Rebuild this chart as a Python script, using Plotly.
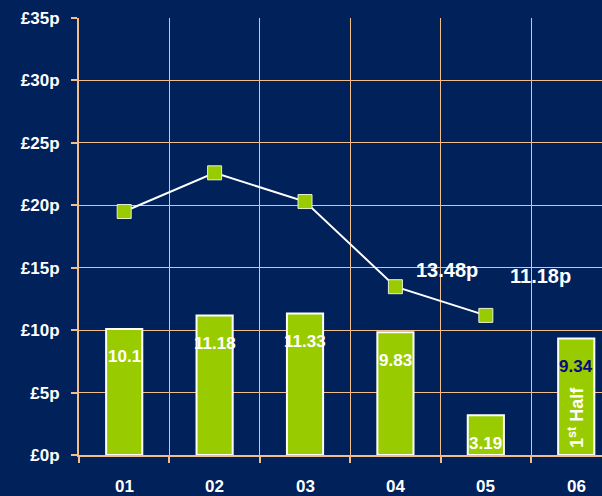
import plotly.graph_objects as go

categories = ["01", "02", "03", "04", "05", "06"]
bar_values = [10.1, 11.18, 11.33, 9.83, 3.19, 9.34]
bar_labels = ["10.1", "11.18", "11.33", "9.83", "3.19", "9.34"]
bar_label_colors = ["white", "white", "white", "white", "white", "#0a0a80"]
line_categories = ["01", "02", "03", "04", "05"]
line_values = [19.5, 22.6, 20.3, 13.48, 11.18]
y_ticks = [0, 5, 10, 15, 20, 25, 30, 35]
y_tick_labels = ["£0p", "£5p", "£10p", "£15p", "£20p", "£25p", "£30p", "£35p"]
callout_categories = ["04", "05"]
callout_values = [13.48, 11.18]
callout_texts = ["13.48p", "11.18p"]

BG = "#00215a"
GRID = "#f2bf8c"
GREEN = "#99cc00"
FONT = "Liberation Sans, Arial, sans-serif"

idx = {c: i for i, c in enumerate(categories)}

fig = go.Figure()
fig.add_trace(go.Bar(
    x=[idx[c] for c in categories], y=bar_values, width=0.4,
    marker=dict(color=GREEN, line=dict(color="white", width=2)),
    hoverinfo="skip",
))
fig.add_trace(go.Scatter(
    x=[idx[c] for c in line_categories], y=line_values, mode="lines+markers",
    line=dict(color="white", width=2),
    marker=dict(symbol="square", size=14, color=GREEN, line=dict(color="#e8f0d0", width=1)),
    hoverinfo="skip",
))

annotations = []
for c, v, t, col in zip(categories, bar_values, bar_labels, bar_label_colors):
    annotations.append(dict(x=idx[c], y=v, text=f"<b>{t}</b>", showarrow=False,
                            yshift=-28, font=dict(family=FONT, size=17, color=col)))
callout_shift = [(52, 4), (55, 26)]
for c, v, t, (dx, dy) in zip(callout_categories, callout_values, callout_texts, callout_shift):
    annotations.append(dict(x=idx[c], y=v, text=f"<b>{t}</b>", showarrow=False,
                            xshift=dx, yshift=dy, yanchor="bottom",
                            font=dict(family=FONT, size=20, color="white")))
annotations.append(dict(x=idx["06"], y=bar_values[5] * 0.32, text="<b>1<sup>st</sup> Half</b>",
                        showarrow=False, textangle=-90,
                        font=dict(family=FONT, size=18, color="white")))
# category labels under the axis
for c in categories:
    annotations.append(dict(x=idx[c], y=0, yref="y", text=f"<b>{c}</b>", showarrow=False,
                            yanchor="top", yshift=-20,
                            font=dict(family=FONT, size=17, color="white")))

fig.update_layout(
    width=602, height=496,
    margin=dict(l=79, r=0, t=18, b=41),
    paper_bgcolor=BG, plot_bgcolor=BG,
    showlegend=False,
    annotations=annotations,
    font=dict(family=FONT, color="white"),
)
fig.update_xaxes(
    type="linear",
    range=[-0.5, 5.285],
    tickvals=[i - 0.5 for i in range(len(categories) + 1)],
    showticklabels=False,
    showgrid=True, gridcolor=GRID, gridwidth=1,
    showline=True, linecolor=GRID, linewidth=2,
    ticks="outside", ticklen=6, tickcolor=GRID, tickwidth=2,
    zeroline=False,
)
fig.update_yaxes(
    range=[0, 35], tickvals=y_ticks, ticktext=[f"<b>{t}</b>" for t in y_tick_labels],
    showgrid=True, gridcolor=GRID, gridwidth=1,
    showline=True, linecolor=GRID, linewidth=2,
    ticks="outside", ticklen=6, tickcolor=GRID, tickwidth=2,
    ticklabelstandoff=8,
    tickfont=dict(family=FONT, size=17, color="white"),
    zeroline=False,
)
fig.write_html("out.html")
